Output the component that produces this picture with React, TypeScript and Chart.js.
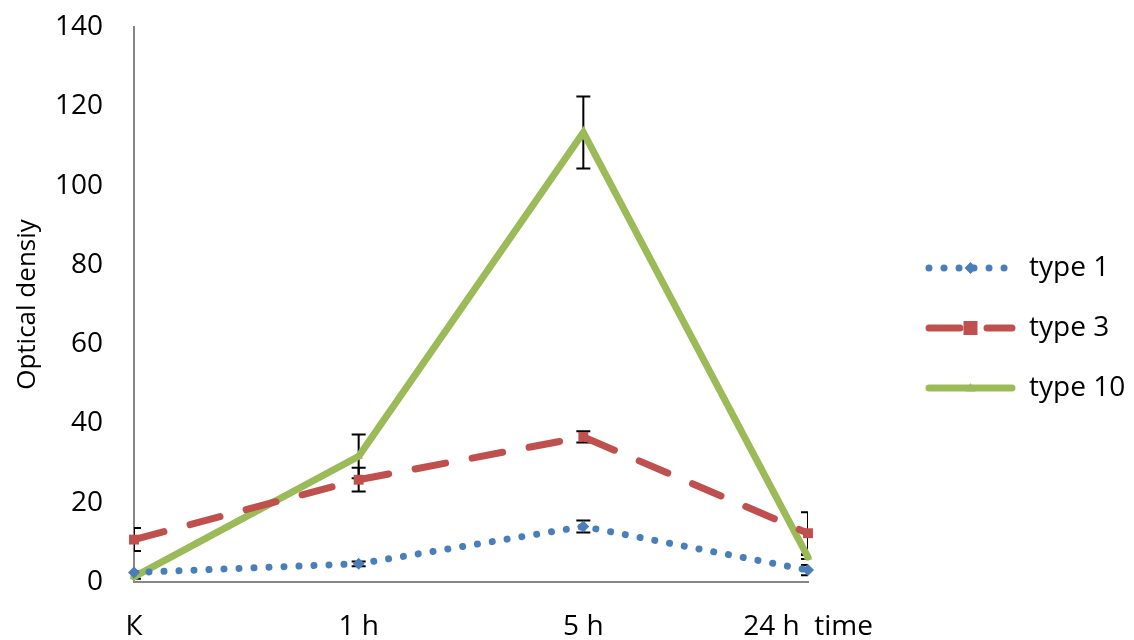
import React, { useEffect, useRef } from "react";
import { Chart, registerables } from "chart.js";

Chart.register(...registerables);

const categories = ["К", "1 h", "5 h", "24 h  time"];
const seriesNames = ["type 1", "type 3", "type 10"];
const type1 = [2.4, 4.6, 14.0, 3.0];
const type3 = [10.7, 25.8, 36.6, 12.3];
const type10 = [1.3, 31.7, 113.4, 6.3];
const type1Err = [0.3, 0.6, 1.5, 1.3];
const type3Err = [2.9, 3.0, 1.4, 5.3];
const type10Err = [0.5, 5.5, 9.1, 0.5];
const yTicks = [0, 20, 40, 60, 80, 100, 120, 140];

const FONT = "'Open Sans', 'DejaVu Sans', sans-serif";

const errorBarPlugin = {
  id: "errorBars",
  beforeDatasetsDraw(chart: any) {
    const { ctx, chartArea, scales } = chart;
    const errs = [type1Err, type3Err, type10Err];
    ctx.save();
    ctx.beginPath();
    ctx.rect(chartArea.left, chartArea.top - 20, chartArea.right - chartArea.left, chartArea.bottom - chartArea.top + 20);
    ctx.clip();
    ctx.strokeStyle = "#000";
    ctx.lineWidth = 2;
    chart.data.datasets.forEach((ds: any, i: number) => {
      ds.data.forEach((v: number, j: number) => {
        const e = errs[i][j];
        if (!e) return;
        const x = scales.x.getPixelForValue(j);
        const yt = scales.y.getPixelForValue(v + e);
        const yb = scales.y.getPixelForValue(v - e);
        const w = 7;
        ctx.beginPath();
        ctx.moveTo(x, yt);
        ctx.lineTo(x, yb);
        ctx.moveTo(x - w, yt);
        ctx.lineTo(x + w, yt);
        ctx.moveTo(x - w, yb);
        ctx.lineTo(x + w, yb);
        ctx.stroke();
      });
    });
    ctx.restore();
  },
};

function drawMarker(ctx: any, style: string, x: number, y: number, r: number, color: string) {
  ctx.save();
  ctx.fillStyle = color;
  ctx.beginPath();
  if (style === "rectRot") {
    ctx.moveTo(x, y - r);
    ctx.lineTo(x + r, y);
    ctx.lineTo(x, y + r);
    ctx.lineTo(x - r, y);
  } else if (style === "rect") {
    ctx.rect(x - r, y - r, 2 * r, 2 * r);
  } else {
    ctx.moveTo(x, y - r);
    ctx.lineTo(x + r, y + r * 0.7);
    ctx.lineTo(x - r, y + r * 0.7);
  }
  ctx.closePath();
  ctx.fill();
  ctx.restore();
}

const legendPlugin = {
  id: "sideLegend",
  afterDraw(chart: any) {
    const { ctx } = chart;
    const x0 = 929;
    const x1 = 1012;
    const ys = [268, 328, 388];
    chart.data.datasets.forEach((ds: any, i: number) => {
      const y = ys[i];
      ctx.save();
      ctx.strokeStyle = ds.borderColor;
      ctx.lineWidth = ds.borderWidth;
      ctx.lineCap = ds.borderCapStyle || "butt";
      ctx.setLineDash(ds.borderDash || []);
      ctx.beginPath();
      ctx.moveTo(x0, y);
      ctx.lineTo(x1, y);
      ctx.stroke();
      ctx.restore();
      drawMarker(ctx, ds.pointStyle, (x0 + x1) / 2, y, ds.pointRadius, ds.borderColor);
      ctx.save();
      ctx.fillStyle = "#000";
      ctx.font = `28px ${FONT}`;
      ctx.textBaseline = "middle";
      ctx.textAlign = "left";
      ctx.fillText(ds.label, 1029, y);
      ctx.restore();
    });
  },
};

export default function App() {
  const ref = useRef<HTMLCanvasElement | null>(null);
  useEffect(() => {
    document.body.style.margin = "0";
    const chart = new Chart(ref.current as HTMLCanvasElement, {
      type: "line",
      data: {
        labels: categories,
        datasets: [
          {
            label: seriesNames[0],
            data: type1,
            borderColor: "#4A7EBB",
            backgroundColor: "#4A7EBB",
            borderWidth: 7,
            borderDash: [0.01, 15],
            borderCapStyle: "round",
            pointStyle: "rectRot",
            pointRadius: 6,
            pointBorderWidth: 0,
            tension: 0,
            clip: false,
          },
          {
            label: seriesNames[1],
            data: type3,
            borderColor: "#C0504D",
            backgroundColor: "#C0504D",
            borderWidth: 7,
            borderDash: [31, 27],
            borderCapStyle: "round",
            pointStyle: "rect",
            pointRadius: 7,
            pointBorderWidth: 0,
            tension: 0,
            clip: false,
          },
          {
            label: seriesNames[2],
            data: type10,
            borderColor: "#9BBB59",
            backgroundColor: "#9BBB59",
            borderWidth: 7,
            borderCapStyle: "round",
            pointStyle: "triangle",
            pointRadius: 5,
            pointBorderWidth: 0,
            tension: 0,
            clip: false,
          },
        ] as any,
      },
      options: {
        responsive: false,
        animation: false,
        layout: { padding: { top: 27, right: 326, left: 0, bottom: 0 } },
        plugins: { legend: { display: false }, tooltip: { enabled: false } },
        scales: {
          x: {
            type: "category",
            offset: false,
            grid: { display: false, drawTicks: false },
            border: { display: true, color: "#868686", width: 2 },
            ticks: { font: { family: FONT, size: 28 }, color: "#000", padding: 28, maxRotation: 0, autoSkip: false },
            afterFit: (s: any) => { s.height = 58; s.paddingLeft = 0; s.paddingRight = 0; },
          },
          y: {
            min: 0,
            max: 140,
            afterBuildTicks: (s: any) => { s.ticks = yTicks.map((v) => ({ value: v })); },
            grid: { display: false, drawTicks: false },
            border: { display: true, color: "#868686", width: 2 },
            ticks: { font: { family: FONT, size: 28 }, color: "#000", padding: 31 },
            title: { display: true, text: "Optical densiy", font: { family: FONT, size: 26 }, color: "#000", padding: { top: 12, bottom: 0 } },
            afterFit: (s: any) => { s.width = 134; s.paddingTop = 0; s.paddingBottom = 0; },
          },
        },
      } as any,
      plugins: [errorBarPlugin, legendPlugin],
    });
    return () => chart.destroy();
  }, []);
  return (
    <div style={{ width: 1134, height: 640, background: "#fff" }}>
      <canvas ref={ref} width={1134} height={640} />
    </div>
  );
}
